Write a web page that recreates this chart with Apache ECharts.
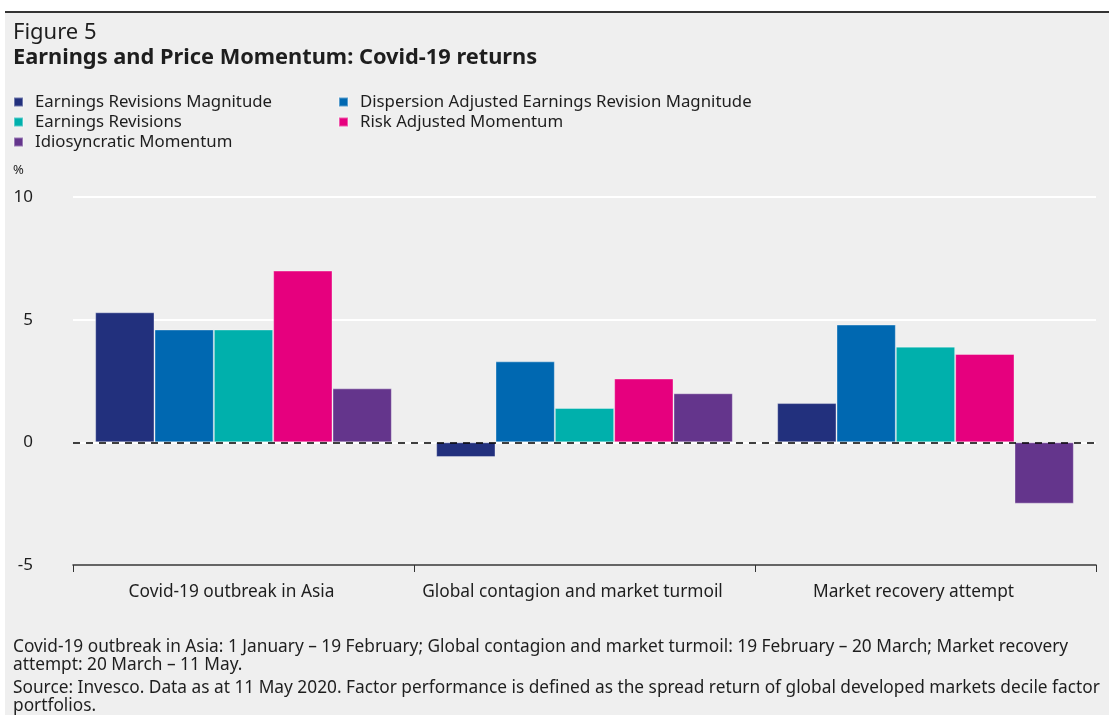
<!DOCTYPE html>
<html>
<head>
<meta charset="utf-8">
<script src="https://cdn.jsdelivr.net/npm/echarts@6/dist/echarts.min.js"></script>
<style>
html,body{margin:0;padding:0;background:#fff;}
#chart{width:1109px;height:715px;}
</style>
</head>
<body>
<div id="chart"></div>
<script>
const categories = ['Covid-19 outbreak in Asia', 'Global contagion and market turmoil', 'Market recovery attempt'];
const seriesNames = ['Earnings Revisions Magnitude', 'Dispersion Adjusted Earnings Revision Magnitude', 'Earnings Revisions', 'Risk Adjusted Momentum', 'Idiosyncratic Momentum'];
const ermValues = [5.3, -0.6, 1.6];
const daermValues = [4.6, 3.3, 4.8];
const erValues = [4.6, 1.4, 3.9];
const ramValues = [7.0, 2.6, 3.6];
const imValues = [2.2, 2.0, -2.5];
const colors = ['#22307d', '#0068b1', '#00b0ac', '#e6007e', '#64358c'];
const yTicks = { min: -5, max: 10, interval: 5 };

const FONT = '"Noto Sans"';
const allValues = [ermValues, daermValues, erValues, ramValues, imValues];

const chart = echarts.init(document.getElementById('chart'));
const series = seriesNames.map((name, i) => ({
  name: name,
  type: 'bar',
  data: allValues[i],
  barGap: '0%',
  barCategoryGap: '13%',
  itemStyle: { color: colors[i], borderColor: 'rgba(255,255,255,0.35)', borderWidth: 1 },
  emphasis: { disabled: true },
  z: 2
}));
series[0].markLine = {
  silent: true,
  symbol: 'none',
  label: { show: false },
  lineStyle: { color: '#000', type: [7, 6], width: 1.5 },
  data: [{ yAxis: 0 }],
  z: 5
};

const legendText = { fontFamily: FONT, fontSize: 16.8, color: '#1e1e1e', lineHeight: 20, padding: [0, 0, 0, 7] };

chart.setOption({
  backgroundColor: '#fff',
  animation: false,
  graphic: [
    { type: 'rect', left: 5, top: 12, shape: { width: 1104, height: 703 }, style: { fill: '#efefef' }, z: -10 },
    { type: 'rect', left: 5, top: 11, shape: { width: 1104, height: 2 }, style: { fill: '#333' }, z: -5 },
    { type: 'text', x: 13, y: 33, style: { text: 'Figure 5', font: '22px ' + FONT, fill: '#1e1e1e', verticalAlign: 'middle' } },
    { type: 'text', x: 13, y: 58, style: { text: 'Earnings and Price Momentum: Covid-19 returns', font: 'bold 21.8px ' + FONT, fill: '#1e1e1e', verticalAlign: 'middle' } },
    { type: 'text', x: 13, y: 170, style: { text: '%', font: '13px ' + FONT, fill: '#1e1e1e', verticalAlign: 'middle' } },
    { type: 'text', x: 13, y: 638.5, style: {
      text: 'Covid-19 outbreak in Asia: 1 January – 19 February; Global contagion and market turmoil: 19 February – 20 March; Market recovery\nattempt: 20 March – 11 May.',
      font: '17.3px ' + FONT, fill: '#1e1e1e', lineHeight: 18, verticalAlign: 'top' } },
    { type: 'text', x: 13, y: 679.5, style: {
      text: 'Source: Invesco. Data as at 11 May 2020. Factor performance is defined as the spread return of global developed markets decile factor\nportfolios.',
      font: '17.3px ' + FONT, fill: '#1e1e1e', lineHeight: 18, verticalAlign: 'top' } }
  ],
  legend: [
    { left: 8, top: 87, orient: 'vertical', itemGap: 0, itemWidth: 9, itemHeight: 9, icon: 'rect',
      data: [seriesNames[0], seriesNames[2], seriesNames[4]], textStyle: legendText, selectedMode: false },
    { left: 333, top: 87, orient: 'vertical', itemGap: 0, itemWidth: 9, itemHeight: 9, icon: 'rect',
      data: [seriesNames[1], seriesNames[3]], textStyle: legendText, selectedMode: false }
  ],
  grid: { left: 73, right: 13, top: 197, bottom: 150, containLabel: false },
  xAxis: {
    type: 'category',
    data: categories,
    axisLine: { show: true, onZero: false, lineStyle: { color: '#333', width: 1.5 } },
    axisTick: { show: true, inside: false, length: 7, lineStyle: { color: '#333' } },
    axisLabel: { fontFamily: FONT, fontSize: 17.3, color: '#1e1e1e', margin: 19, interval: 0, padding: [0, 24, 0, 0] },
    splitLine: { show: false }
  },
  yAxis: {
    type: 'value',
    min: yTicks.min, max: yTicks.max, interval: yTicks.interval,
    axisLine: { show: false },
    axisTick: { show: false },
    axisLabel: { fontFamily: FONT, fontSize: 17, color: '#1e1e1e', margin: 40 },
    splitLine: { show: true, lineStyle: { color: '#ffffff', width: 2 } }
  },
  series: series
});
</script>
</body>
</html>
